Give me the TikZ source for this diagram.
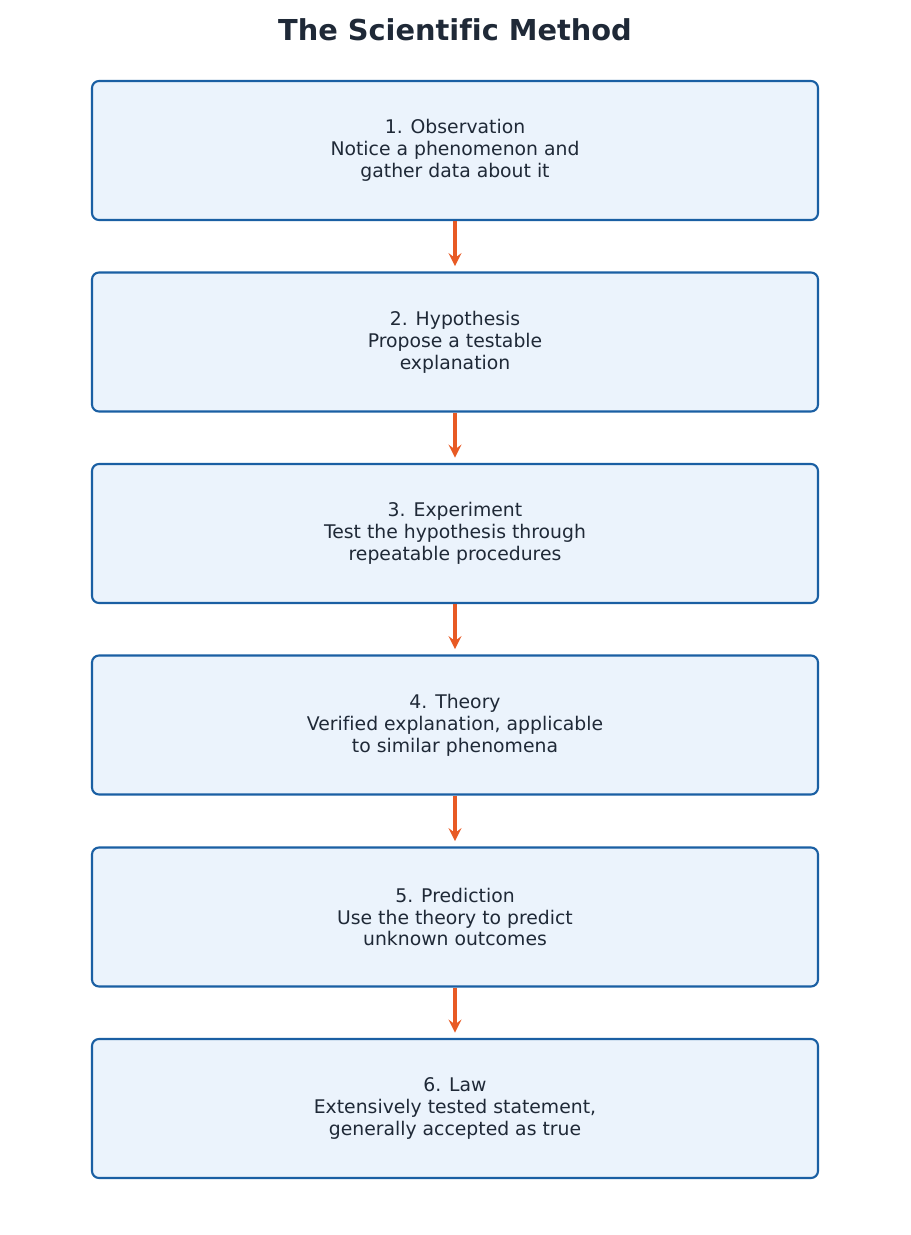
\documentclass[tikz,border=0pt]{standalone}
\usepackage{fontspec}
\setmainfont[Ligatures=NoCommon]{DejaVu Sans}
\usetikzlibrary{arrows}
\definecolor{boxfill}{HTML}{EBF3FC}
\definecolor{boxline}{HTML}{1A5FA3}
\definecolor{arrowc}{HTML}{E85A24}
\definecolor{textc}{HTML}{1F2937}
\tikzset{
    stage/.style={rectangle,rounded corners=4pt,draw=boxline,fill=boxfill,line width=1.2pt,
        minimum width=14.52cm,minimum height=2.78cm,align=center,text=textc,
        font=\fontsize{10.7}{12.5}\selectfont},
    flow/.style={draw=arrowc,line width=2.2pt,-stealth,shorten >=3pt}
}
\begin{document}
\begin{tikzpicture}
    \useasboundingbox (0,0) rectangle (18.2,24.7);
    \node[text=textc,font=\bfseries\fontsize{16.4}{19}\selectfont] (title) at (9.1, 24.1) {The Scientific Method};
    \node[stage] (obs) at (9.1, 21.69) {1. Observation\\Notice a phenomenon and\\gather data about it};
    \node[stage] (hyp) at (9.1, 17.86) {2. Hypothesis\\Propose a testable\\explanation};
    \node[stage] (expt) at (9.1, 14.03) {3. Experiment\\Test the hypothesis through\\repeatable procedures};
    \node[stage] (theory) at (9.1, 10.20) {4. Theory\\Verified explanation, applicable\\to similar phenomena};
    \node[stage] (pred) at (9.1, 6.36) {5. Prediction\\Use the theory to predict\\unknown outcomes};
    \node[stage] (law) at (9.1, 2.53) {6. Law\\Extensively tested statement,\\generally accepted as true};
    \draw[flow] (obs) -- (hyp);
    \draw[flow] (hyp) -- (expt);
    \draw[flow] (expt) -- (theory);
    \draw[flow] (theory) -- (pred);
    \draw[flow] (pred) -- (law);
\end{tikzpicture}
\end{document}
